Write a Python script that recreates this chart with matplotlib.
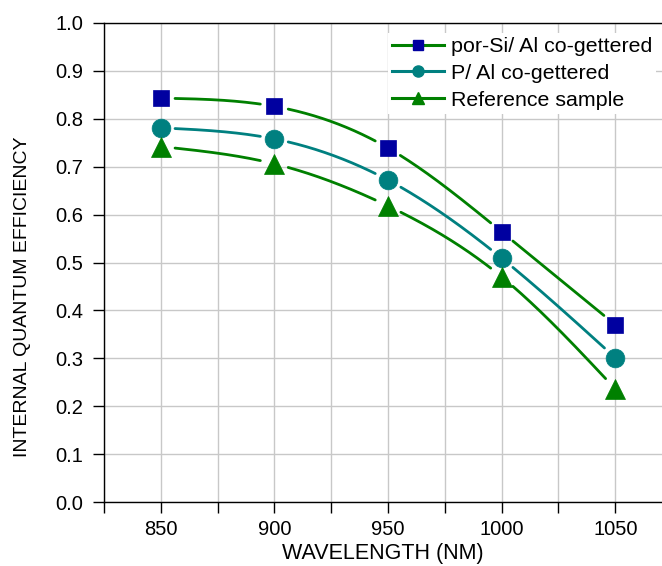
import numpy as np
import matplotlib
matplotlib.use("Agg")
import matplotlib.pyplot as plt
from matplotlib.lines import Line2D

plt.rcParams['font.family'] = ['Liberation Sans', 'DejaVu Sans']

wavelength = [850, 900, 950, 1000, 1050]
por_si = [0.843, 0.826, 0.739, 0.564, 0.370]
p_al = [0.781, 0.758, 0.672, 0.509, 0.301]
reference = [0.742, 0.706, 0.618, 0.470, 0.236]
labels = ["por-Si/ Al co-gettered", "P/ Al co-gettered", "Reference sample"]

fig = plt.figure(figsize=(6.62, 5.66), dpi=100)
ax = fig.add_axes([104/662, 64/566, 1 - 104/662 + 0.0005, (502-23)/566])
ax.set_xlim(825, 1070.7)
ax.set_ylim(0, 1.0)

ax.set_xticks([850, 900, 950, 1000, 1050])
ax.set_xticks([825, 875, 925, 975, 1025], minor=True)
ax.set_yticks(np.round(np.arange(0, 1.01, 0.1), 1))
ax.set_yticklabels([f"{v:.1f}" for v in np.arange(0, 1.01, 0.1)])
ax.grid(True, which='both', color='#c8c8c8', lw=1.0)
ax.set_axisbelow(True)
ax.tick_params(axis='both', which='both', direction='out', labelsize=14.5, width=1.0)
ax.tick_params(axis='x', which='both', length=8, pad=5)
ax.tick_params(axis='y', length=8, pad=7)
ax.spines['right'].set_visible(False)
for s in ['left', 'bottom', 'top']:
    ax.spines[s].set_linewidth(1.0)
ax.set_xlabel("WAVELENGTH (NM)", fontsize=15.5, labelpad=3)
ax.set_ylabel("INTERNAL QUANTUM EFFICIENCY", fontsize=14)
ax.yaxis.set_label_coords(-0.130, (502-297)/479)


def natural_spline(x, y, xs):
    x = np.asarray(x, float); y = np.asarray(y, float)
    n = len(x)
    h = np.diff(x)
    A = np.zeros((n, n)); b = np.zeros(n)
    A[0, 0] = 1; A[-1, -1] = 1
    for i in range(1, n - 1):
        A[i, i-1] = h[i-1]; A[i, i] = 2*(h[i-1]+h[i]); A[i, i+1] = h[i]
        b[i] = 3*((y[i+1]-y[i])/h[i] - (y[i]-y[i-1])/h[i-1])
    c = np.linalg.solve(A, b)
    out = np.empty_like(xs)
    for k, xv in enumerate(xs):
        i = min(max(np.searchsorted(x, xv) - 1, 0), n - 2)
        dx = xv - x[i]
        bi = (y[i+1]-y[i])/h[i] - h[i]*(2*c[i]+c[i+1])/3
        di = (c[i+1]-c[i])/(3*h[i])
        out[k] = y[i] + bi*dx + c[i]*dx**2 + di*dx**3
    return out


series = [
    (por_si, '#008000', 's', '#0000a0', 11.5),
    (p_al, '#008080', 'o', '#008080', 13.5),
    (reference, '#008000', '^', '#008000', 15),
]

gap = 14.0
fig.canvas.draw()
for ys, lc, mk, mc, ms in series:
    xs = np.linspace(wavelength[0], wavelength[-1], 800)
    yy = natural_spline(wavelength, ys, xs)
    pts = ax.transData.transform(np.column_stack([xs, yy]))
    mpts = ax.transData.transform(np.column_stack([wavelength, ys]))
    mask = np.ones(len(xs), bool)
    for mp in mpts:
        mask &= np.hypot(pts[:, 0]-mp[0], pts[:, 1]-mp[1]) > gap
    yplot = np.where(mask, yy, np.nan)
    ax.plot(xs, yplot, color=lc, lw=2.0, solid_capstyle='round', zorder=3)
    ax.plot(wavelength, ys, ls='none', marker=mk, ms=ms, color=mc,
            markeredgecolor=mc, markeredgewidth=0.5, zorder=4, clip_on=False)

handles = [
    Line2D([], [], color='#008000', lw=2.2, marker='s', ms=7, mfc='#0000a0', mec='#0000a0'),
    Line2D([], [], color='#008080', lw=2.2, marker='o', ms=8, mfc='#008080', mec='#008080'),
    Line2D([], [], color='#008000', lw=2.2, marker='^', ms=9, mfc='#008000', mec='#008000'),
]
leg = ax.legend(handles, labels, loc='upper left',
                bbox_to_anchor=(388/662, 1 - 33/566), bbox_transform=fig.transFigure,
                frameon=True, fancybox=False, edgecolor='none', facecolor='white', framealpha=1,
                fontsize=15.4, handlelength=2.4, handletextpad=0.33, labelspacing=0.36,
                borderpad=0.2, borderaxespad=0)
leg.set_zorder(5)

fig.savefig("out.png", dpi=100)
